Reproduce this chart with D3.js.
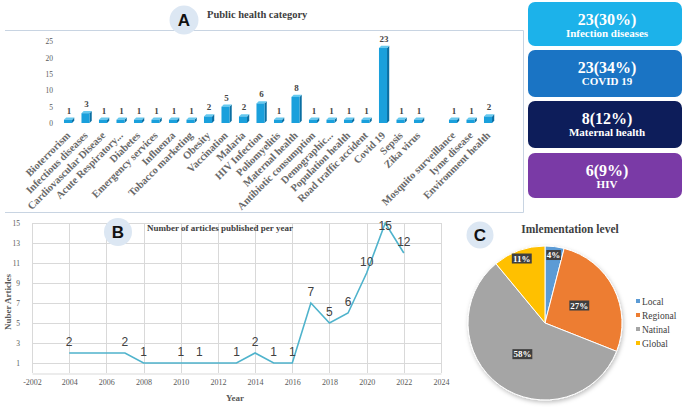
<!DOCTYPE html>
<html>
<head>
<meta charset="utf-8">
<script src="https://cdn.jsdelivr.net/npm/d3@7"></script>
<style>
  html, body { margin: 0; padding: 0; background: #ffffff; }
  svg { display: block; }
</style>
</head>
<body>
<svg id="chart" width="685" height="410"></svg>
<script>
// ---------- DATA ----------
const categories = ["Bioterrorism","Infectious diseases","Cardiovascular Disease","Acute Respiratory...","Diabetes","Emergency services","Influenza","Tobacco marketing","Obesity","Vaccination","Malaria","HIV Infection","Poliomyelitis","Maternal health","Antibiotic consumption","Demographic...","Population health","Road traffic accident","Covid 19","Sepsis","Zika virus","","Mosquito surveillance","lyme disease","Environment health"];
const categoryCounts = [1,3,1,1,1,1,1,1,2,5,2,6,1,8,1,1,1,1,23,1,1,null,1,1,2];
const categoryTicks = [0,5,10,15,20,25];

const highlightValues = ["23(30%)","23(34%)","8(12%)","6(9%)"];
const highlightLabels = ["Infection diseases","COVID 19","Maternal health","HIV"];
const highlightColors = ["#1cb2ea","#1a74c4","#0d1d5a","#7a3aa6"];

const years = [2004,2005,2006,2007,2008,2009,2010,2011,2012,2013,2014,2015,2016,2017,2018,2019,2020,2021,2022];
const articles = [2,2,2,2,1,1,1,1,1,1,2,1,1,7,5,6,10,15,12];
const labeledYears = [2004,2007,2008,2010,2011,2013,2014,2015,2016,2017,2018,2019,2020,2021,2022];
const yearTicks = [2002,2004,2006,2008,2010,2012,2014,2016,2018,2020,2022,2024];
const yearTickLabels = ["-2002","2004","2006","2008","2010","2012","2014","2016","2018","2020","2022","2024"];
const articleTicks = [1,3,5,7,9,11,13,15];

const levels = ["Local","Regional","Natinal","Global"];
const levelShares = [4,27,58,11];
const levelColors = ["#5b9bd5","#ed7d31","#a5a5a5","#ffc000"];

// ---------- SETUP ----------
const svg = d3.select("#chart");
const SERIF = "'Liberation Serif','Times New Roman',serif";
const SANS = "'Liberation Sans',Arial,sans-serif";
const frameColor = "#c8d4e2";

const defs = svg.append("defs");
const f = defs.append("filter").attr("id","shadow").attr("x","-20%").attr("y","-20%").attr("width","140%").attr("height","140%");
f.append("feDropShadow").attr("dx",1).attr("dy",2).attr("stdDeviation",2).attr("flood-color","#000").attr("flood-opacity",0.25);

function badge(cx, cy, r, letter) {
  svg.append("circle").attr("cx",cx).attr("cy",cy).attr("r",r).attr("fill","#dce7f3");
  svg.append("text").attr("x",cx).attr("y",cy+6).attr("text-anchor","middle")
    .attr("font-family",SANS).attr("font-weight","bold").attr("font-size",17).attr("fill","#111")
    .text(letter);
}

// ---------- PANEL A frame ----------
svg.append("path").attr("d","M5,30.5 H523.5 V212.5 H5").attr("fill","none").attr("stroke",frameColor).attr("stroke-width",1);

badge(184, 20, 14.5, "A");
svg.append("text").attr("x",207).attr("y",18).attr("font-family",SERIF).attr("font-weight","bold")
  .attr("font-size",10.5).attr("fill","#404040").text("Public health category");

// ---------- PANEL A bars ----------
const xA = d3.scaleBand().domain(d3.range(categories.length)).range([59.25, 496.75]).paddingInner(0.54).paddingOuter(0.27);
const yA = d3.scaleLinear().domain([0,25]).range([123, 41.5]);

const gAy = svg.append("g").attr("transform","translate(53,0)")
  .call(d3.axisLeft(yA).tickValues(categoryTicks).tickSize(0).tickPadding(0));
gAy.select(".domain").remove();
gAy.selectAll("text").attr("font-family",SERIF).attr("font-size",7.5).attr("fill","#595959");

const barData = categories.map((c,i)=>({c, i, v: categoryCounts[i]})).filter(d=>d.v!=null);
const depth = 2.2;
const bars = svg.append("g").selectAll("g").data(barData).join("g");
bars.each(function(d){
  const g = d3.select(this);
  const x = xA(d.i), w = xA.bandwidth();
  const yt = yA(d.v), y0 = yA(0);
  g.append("polygon").attr("points",`${x+w},${yt} ${x+w+depth},${yt-depth} ${x+w+depth},${y0-depth} ${x+w},${y0}`).attr("fill","#0b6fa3");
  g.append("polygon").attr("points",`${x},${yt} ${x+depth},${yt-depth} ${x+w+depth},${yt-depth} ${x+w},${yt}`).attr("fill","#66c9ef");
  g.append("rect").attr("x",x).attr("y",yt).attr("width",w).attr("height",y0-yt).attr("fill","#1aa0dc");
  g.append("text").attr("x",x+w/2+1).attr("y",yt-6).attr("text-anchor","middle")
    .attr("font-family",SERIF).attr("font-weight","bold").attr("font-size",9).attr("fill","#454545").text(d.v);
});

// category labels
svg.append("g").selectAll("text").data(categories.map((c,i)=>({c,i})).filter(d=>d.c!==""))
  .join("text")
  .attr("transform", d=>`translate(${xA(d.i)+xA.bandwidth()/2+3},${136}) rotate(-45)`)
  .attr("text-anchor","end")
  .attr("font-family",SERIF).attr("font-weight","bold").attr("font-size",10.5).attr("fill","#6a6a6a")
  .text(d=>d.c);

// ---------- Highlight boxes ----------
const boxY = [2, 50, 101, 153];
const boxH = [44, 47, 47, 45];
highlightValues.forEach((v,i)=>{
  svg.append("rect").attr("x",528).attr("y",boxY[i]).attr("width",154).attr("height",boxH[i])
    .attr("rx",7).attr("fill",highlightColors[i]);
  svg.append("text").attr("x",607).attr("y",boxY[i]+23).attr("text-anchor","middle")
    .attr("font-family",SERIF).attr("font-weight","bold").attr("font-size",16).attr("fill","#fff").text(v);
  svg.append("text").attr("x",607).attr("y",boxY[i]+35).attr("text-anchor","middle")
    .attr("font-family",SERIF).attr("font-weight","bold").attr("font-size",11).attr("fill","#fff").text(highlightLabels[i]);
});

// ---------- PANEL B ----------
const xB = d3.scaleLinear().domain([2002,2024]).range([32,441]);
const yB = d3.scaleLinear().domain([0,15]).range([373,223]);
const gB = svg.append("g");
gB.selectAll("line.h").data(articleTicks).join("line").attr("class","h")
  .attr("x1",xB(2002)).attr("x2",xB(2024)).attr("y1",d=>Math.round(yB(d))+0.5).attr("y2",d=>Math.round(yB(d))+0.5)
  .attr("stroke","#d9d9d9");
gB.selectAll("line.v").data(yearTicks).join("line").attr("class","v")
  .attr("x1",d=>Math.round(xB(d))+0.5).attr("x2",d=>Math.round(xB(d))+0.5).attr("y1",yB(15)).attr("y2",yB(0))
  .attr("stroke","#d9d9d9");
const gBx = svg.append("g").attr("transform",`translate(0,${Math.round(yB(0))+0.5})`)
  .call(d3.axisBottom(xB).tickValues(yearTicks).tickSize(0).tickPadding(6).tickFormat((d,i)=>yearTickLabels[i]));
gBx.select(".domain").attr("stroke","#d9d9d9");
gBx.selectAll("text").attr("font-family",SERIF).attr("font-size",8).attr("fill","#595959");
const gBy = svg.append("g").attr("transform","translate(20,0)")
  .call(d3.axisLeft(yB).tickValues(articleTicks).tickSize(0).tickPadding(0));
gBy.select(".domain").remove();
gBy.selectAll("text").attr("font-family",SERIF).attr("font-size",7.5).attr("fill","#595959");

const line = d3.line().x((d,i)=>xB(years[i])).y(d=>yB(d));
svg.append("path").datum(articles).attr("d",line).attr("fill","none").attr("stroke","#4fb3cc").attr("stroke-width",1.6);

svg.append("g").selectAll("text").data(years.map((y,i)=>({y, v:articles[i]})).filter(d=>labeledYears.includes(d.y)))
  .join("text")
  .attr("x",d=>xB(d.y)).attr("y",d=>Math.max(yB(d.v)-12, 225)+4.5)
  .attr("text-anchor","middle").attr("font-family",SANS).attr("font-size",12).attr("fill","#404040")
  .text(d=>d.v);

badge(118, 232, 14, "B");
svg.append("text").attr("x",147).attr("y",231).attr("font-family",SERIF).attr("font-weight","bold")
  .attr("font-size",9).attr("fill","#404040").text("Number of articles published per year");
svg.append("text").attr("transform","translate(11,302) rotate(-90)").attr("text-anchor","middle")
  .attr("font-family",SERIF).attr("font-weight","bold").attr("font-size",9).attr("fill","#595959").text("Nuber Articles");
svg.append("text").attr("x",235).attr("y",401).attr("text-anchor","middle")
  .attr("font-family",SERIF).attr("font-weight","bold").attr("font-size",9).attr("fill","#595959").text("Year");

// ---------- PANEL C ----------
badge(480, 235, 13.5, "C");
svg.append("text").attr("x",570).attr("y",233).attr("text-anchor","middle").attr("font-family",SERIF)
  .attr("font-weight","bold").attr("font-size",11.5).attr("fill","#404040").text("Imlementation level");

const cx = 545, cy = 323, R = 77;
const pie = d3.pie().sort(null).value(d=>d.v);
const arcs = pie(levels.map((l,i)=>({l, v:levelShares[i], c:levelColors[i]})));
const arc = d3.arc().innerRadius(0).outerRadius(R);
const gC = svg.append("g").attr("transform",`translate(${cx},${cy})`);
gC.append("g").attr("filter","url(#shadow)").selectAll("path").data(arcs).join("path")
  .attr("d",arc).attr("fill",d=>d.data.c).attr("stroke","#fff").attr("stroke-width",1);
const labelArcIn = d3.arc().innerRadius(R*0.5).outerRadius(R*0.5);
const labelArcOut = d3.arc().innerRadius(R*0.89).outerRadius(R*0.89);
arcs.forEach(d=>{
  const p = (d.data.v < 15 ? labelArcOut : labelArcIn).centroid(d);
  const t = d.data.v + "%";
  const w = t.length*5.3 + 4;
  gC.append("rect").attr("x",p[0]-w/2).attr("y",p[1]-5).attr("width",w).attr("height",10).attr("fill","#3f3f3f");
  gC.append("text").attr("x",p[0]).attr("y",p[1]+3.2).attr("text-anchor","middle")
    .attr("font-family",SERIF).attr("font-weight","bold").attr("font-size",9).attr("fill","#fff").text(t);
});

const leg = svg.append("g").selectAll("g").data(levels).join("g")
  .attr("transform",(d,i)=>`translate(636,${302 + i*14})`);
leg.append("rect").attr("x",0).attr("y",-3).attr("width",4).attr("height",4).attr("fill",(d,i)=>levelColors[i]);
leg.append("text").attr("x",6).attr("y",3).attr("font-family",SERIF).attr("font-size",9.5).attr("fill","#404040").text(d=>d);
</script>
</body>
</html>
